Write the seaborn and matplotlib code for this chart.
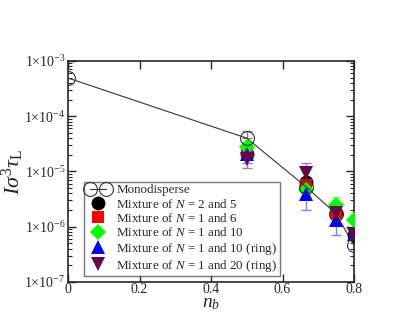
import numpy as np
import pandas as pd
import matplotlib
matplotlib.use("Agg")
import matplotlib.pyplot as plt
import seaborn as sns
from matplotlib.legend_handler import HandlerLine2D
from matplotlib.ticker import FixedLocator, LogLocator, NullFormatter

# ---- data ----
mono_x = [0.0, 0.5, 0.667, 0.75, 0.8]
mono_y = [4.9e-4, 4.0e-5, 5.2e-6, 1.7e-6, 4.6e-7]

mix25_x = [0.5, 0.667, 0.75, 0.8]
mix25_y = [2.1e-5, 6.4e-6, 1.8e-6, 7.0e-7]

mix16_x = [0.5, 0.667, 0.75]
mix16_y = [2.3e-5, 5.8e-6, 1.8e-6]

mix110_x = [0.5, 0.667, 0.75, 0.8]
mix110_y = [2.8e-5, 4.7e-6, 2.5e-6, 1.3e-6]
mix110_err = [0.6e-5, 1.0e-6, 1.0e-6, 0.4e-6]

mix110r_x = [0.5, 0.667, 0.75, 0.8]
mix110r_y = [2.1e-5, 3.9e-6, 1.3e-6, 7.5e-7]
mix110r_err = [0.7e-5, 1.9e-6, 0.6e-6, 0.15e-6]

mix120r_x = [0.5, 0.667, 0.75, 0.8]
mix120r_y = [1.7e-5, 9.5e-6, 1.8e-6, 7.0e-7]
mix120r_err = [0.55e-5, 4.5e-6, 0.7e-6, 0.1e-6]

labels = ["Monodisperse", "Mixture of $N$ = 2 and 5", "Mixture of $N$ = 1 and 6",
          "Mixture of $N$ = 1 and 10", "Mixture of $N$ = 1 and 10 (ring)",
          "Mixture of $N$ = 1 and 20 (ring)"]
xticks = [0, 0.2, 0.4, 0.6, 0.8]
yticks_exp = [-3, -4, -5, -6, -7]

# ---- style ----
sns.set_style("ticks")
plt.rcParams['font.family'] = ['Liberation Serif', 'DejaVu Serif']
plt.rcParams['mathtext.fontset'] = 'custom'
plt.rcParams['mathtext.rm'] = 'Liberation Serif'
plt.rcParams['mathtext.it'] = 'Liberation Serif:italic'
plt.rcParams['mathtext.bf'] = 'Liberation Serif:bold'

fig = plt.figure(figsize=(4.15, 3.14), dpi=100)
ax = fig.add_axes([0.164, 0.102, 0.689, 0.704])

ax.set_yscale('log')

# errorbars (drawn first)
err_specs = [
    (mix110_x, mix110_y, mix110_err, '#7fff7f'),
    (mix110r_x, mix110r_y, mix110r_err, '#7f7fff'),
    (mix120r_x, mix120r_y, mix120r_err, '#b07a9c'),
]
for xs, ys, es, c in err_specs:
    ax.errorbar(xs, ys, yerr=es, fmt='none', ecolor=c, elinewidth=1.0,
                capsize=3.5, capthick=1.0, zorder=1)
ax.errorbar([0.5], [4.0e-5], yerr=[[0.0], [1.5e-5]], fmt='none', ecolor='#888888',
            elinewidth=1.0, capsize=3.5, capthick=1.0, zorder=1)

# monodisperse line
df_mono = pd.DataFrame({'x': mono_x, 'y': mono_y})
sns.lineplot(data=df_mono, x='x', y='y', ax=ax, color='#333333', lw=0.8,
             marker='o', markersize=10, markerfacecolor='none',
             markeredgecolor='#333333', markeredgewidth=0.8, zorder=5)

series = [
    (mix25_x, mix25_y, 'o', 'black', 10),
    (mix16_x, mix16_y, 's', '#ff0000', 9),
    (mix110_x, mix110_y, 'D', '#00ff00', 8),
    (mix110r_x, mix110r_y, '^', '#0000ff', 10),
    (mix120r_x, mix120r_y, 'v', '#670748', 10),
]
handles = []
h_mono = plt.Line2D([], [], color='#333333', lw=0.8, marker='o', markersize=10,
                    markerfacecolor='none', markeredgecolor='#333333', markeredgewidth=0.8)
handles.append(h_mono)
for xs, ys, m, c, ms in series:
    df = pd.DataFrame({'x': xs, 'y': ys})
    sns.lineplot(data=df, x='x', y='y', ax=ax, lw=0, marker=m, markersize=ms,
                 color=c, markeredgecolor=c, markeredgewidth=0, zorder=3)
    handles.append(plt.Line2D([], [], lw=0, marker=m, markersize=ms, color=c,
                              markeredgewidth=0))

ax.set_xlim(0, 0.8)
ax.set_ylim(1e-7, 1e-3)
ax.xaxis.set_major_locator(FixedLocator(xticks))
ax.set_xticklabels([f"{t:g}" if t != 0 else "0" for t in xticks])
ax.yaxis.set_major_locator(FixedLocator([10.0 ** e for e in yticks_exp]))
ax.set_yticklabels([f"1×10$^{{{e}}}$" for e in yticks_exp])
ax.yaxis.set_minor_locator(LogLocator(base=10, subs=np.arange(2, 10)))
ax.yaxis.set_minor_formatter(NullFormatter())

ax.tick_params(which='both', direction='in', top=True, right=True, labelsize=10)
ax.tick_params(axis='x', pad=1)
ax.tick_params(axis='y', pad=2)
ax.tick_params(which='major', length=6, width=1)
ax.tick_params(which='minor', length=3, width=0.8)
for s in ax.spines.values():
    s.set_linewidth(1.2)

ax.set_xlabel("$n_b$", fontsize=14)
ax.xaxis.set_label_coords(0.5, -0.058)
ax.set_ylabel(r"$I\sigma^3\tau_\mathrm{L}$", fontsize=16, labelpad=-1)

hmap = {h_mono: HandlerLine2D(numpoints=2)}
for h in handles[1:]:
    hmap[h] = HandlerLine2D(numpoints=1)
leg = ax.legend(handles, labels, loc='lower left', bbox_to_anchor=(0.055, 0.025),
                fontsize=9.4, frameon=True, fancybox=False, edgecolor='#555555',
                handlelength=1.8, handletextpad=0.5, labelspacing=0.1,
                borderpad=0.2, handler_map=hmap, borderaxespad=0)
leg.get_frame().set_linewidth(1.0)

fig.savefig("out.png", dpi=100)
